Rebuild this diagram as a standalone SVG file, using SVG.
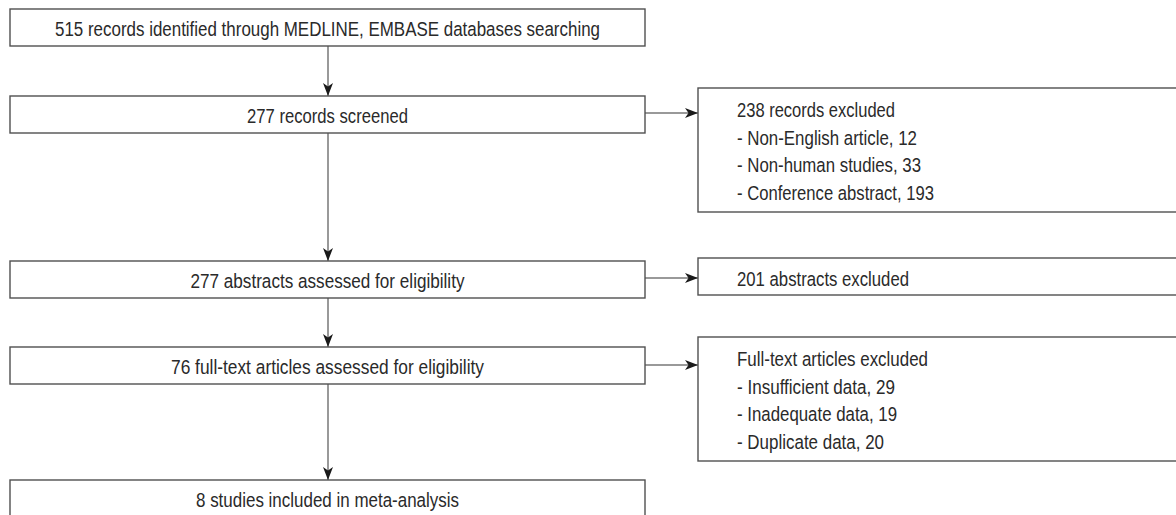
<svg xmlns="http://www.w3.org/2000/svg" width="1176" height="515" viewBox="0 0 1176 515">
<defs>
<marker id="ah" markerUnits="userSpaceOnUse" markerWidth="14" markerHeight="12" refX="13" refY="5" orient="auto">
<path d="M0,0 L13,5 L0,10 L3.5,5 Z" fill="#1a1a1a"/>
</marker>
<style>
.box{fill:#fff;stroke:#505050;stroke-width:1.4}
.t{font-family:"Liberation Sans",Arial,sans-serif;font-size:20.5px;fill:#2a2a2a}
.c{text-anchor:middle}
.ln{stroke:#777;stroke-width:1.5;fill:none;marker-end:url(#ah)}
</style>
</defs>
<rect width="1176" height="515" fill="#fff"/>
<g id="connectors">
<line class="ln" x1="328" y1="46" x2="328" y2="96"/>
<line class="ln" x1="328" y1="133" x2="328" y2="261"/>
<line class="ln" x1="328" y1="298" x2="328" y2="347"/>
<line class="ln" x1="328" y1="384" x2="328" y2="480"/>
<line class="ln" x1="645" y1="113" x2="698" y2="113"/>
<line class="ln" x1="645" y1="278" x2="698" y2="278"/>
<line class="ln" x1="645" y1="365" x2="698" y2="365"/>
</g>
<g id="n1">
<rect class="box" x="10" y="9" width="635" height="37"/>
<text class="t c" x="327.5" y="36" textLength="545" lengthAdjust="spacingAndGlyphs">515 records identified through MEDLINE, EMBASE databases searching</text>
</g>
<g id="n2">
<rect class="box" x="10" y="96" width="635" height="37"/>
<text class="t c" x="327.5" y="123" textLength="161" lengthAdjust="spacingAndGlyphs">277 records screened</text>
</g>
<g id="n3">
<rect class="box" x="10" y="261" width="635" height="37"/>
<text class="t c" x="327.5" y="288" textLength="274" lengthAdjust="spacingAndGlyphs">277 abstracts assessed for eligibility</text>
</g>
<g id="n4">
<rect class="box" x="10" y="347" width="635" height="37"/>
<text class="t c" x="327.5" y="374" textLength="313" lengthAdjust="spacingAndGlyphs">76 full-text articles assessed for eligibility</text>
</g>
<g id="n5">
<rect class="box" x="10" y="480" width="635" height="40"/>
<text class="t c" x="327.5" y="507" textLength="263" lengthAdjust="spacingAndGlyphs">8 studies included in meta-analysis</text>
</g>
<g id="e1">
<rect class="box" x="698" y="88" width="490" height="124"/>
<text class="t" x="737" y="117" textLength="158" lengthAdjust="spacingAndGlyphs">238 records excluded</text>
<text class="t" x="737" y="144.7" textLength="180" lengthAdjust="spacingAndGlyphs">- Non-English article, 12</text>
<text class="t" x="737" y="172.3" textLength="184" lengthAdjust="spacingAndGlyphs">- Non-human studies, 33</text>
<text class="t" x="737" y="199.6" textLength="197" lengthAdjust="spacingAndGlyphs">- Conference abstract, 193</text>
</g>
<g id="e2">
<rect class="box" x="698" y="258" width="490" height="37"/>
<text class="t" x="737" y="285.5" textLength="172" lengthAdjust="spacingAndGlyphs">201 abstracts excluded</text>
</g>
<g id="e3">
<rect class="box" x="698" y="337" width="490" height="124"/>
<text class="t" x="737" y="366" textLength="191" lengthAdjust="spacingAndGlyphs">Full-text articles excluded</text>
<text class="t" x="737" y="393.7" textLength="158" lengthAdjust="spacingAndGlyphs">- Insufficient data, 29</text>
<text class="t" x="737" y="421.3" textLength="160" lengthAdjust="spacingAndGlyphs">- Inadequate data, 19</text>
<text class="t" x="737" y="448.6" textLength="147" lengthAdjust="spacingAndGlyphs">- Duplicate data, 20</text>
</g>
</svg>
